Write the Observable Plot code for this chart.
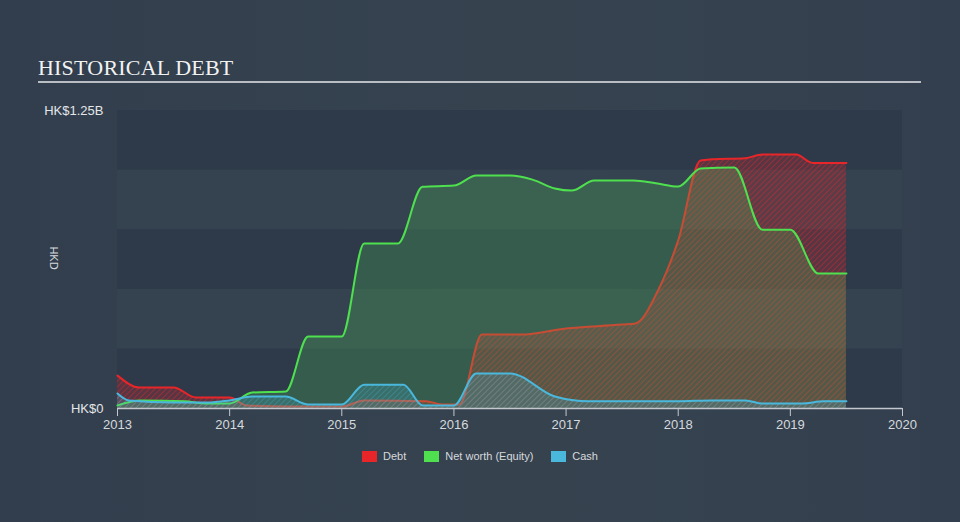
<!DOCTYPE html>
<html><head><meta charset="utf-8">
<script src="https://cdn.jsdelivr.net/npm/d3@7"></script>
<script src="https://cdn.jsdelivr.net/npm/@observablehq/plot@0.6"></script>
<style>
html,body{margin:0;padding:0;width:960px;height:522px;overflow:hidden;background:#333f4e;}
body{position:relative;font-family:"Liberation Sans",Arial,sans-serif;background:linear-gradient(90deg,#323e4d 0%,#36434f 55%,#333f4e 100%);}
#title{position:absolute;left:38px;top:55px;font-family:"Liberation Serif","DejaVu Serif",serif;font-size:22px;color:#f2f2f2;letter-spacing:0.2px;}
#rule{position:absolute;left:38px;top:81px;width:883px;height:2px;background:#b9bec5;}
#chart{position:absolute;left:0;top:0;}
#legend{position:absolute;top:450px;left:0;width:960px;display:flex;justify-content:center;gap:0;font-size:11px;color:#d6d9dd;}
#legend span.item{display:flex;align-items:center;margin:0 9px;}
#legend i{display:inline-block;width:15px;height:11px;margin-right:6px;}
</style></head>
<body>
<div id="title">HISTORICAL DEBT</div>
<div id="rule"></div>
<div id="chart"></div>
<div id="legend"></div>
<script>
// ---- data (values in HK$ billions, x in decimal years) ----
const debtYears  = [2013.0,2013.2,2013.5,2013.7,2014.0,2014.15,2014.5,2015.0,2015.2,2015.75,2015.9,2016.05,2016.25,2016.6,2017.0,2017.5,2017.62,2017.82,2018.0,2018.2,2018.3,2018.6,2018.75,2019.05,2019.2,2019.5];
const debtValues = [0.138,0.088,0.088,0.046,0.046,0.013,0.008,0.008,0.034,0.030,0.017,0.017,0.310,0.310,0.336,0.352,0.357,0.495,0.705,1.040,1.045,1.050,1.065,1.065,1.030,1.030];

const equityYears  = [2013.0,2013.2,2013.6,2013.8,2014.0,2014.2,2014.5,2014.7,2015.0,2015.2,2015.5,2015.72,2016.0,2016.2,2016.5,2016.7,2016.9,2017.05,2017.25,2017.6,2017.8,2018.0,2018.2,2018.5,2018.75,2019.0,2019.25,2019.5];
const equityValues = [0.013,0.034,0.030,0.021,0.021,0.067,0.071,0.302,0.302,0.692,0.692,0.930,0.935,0.977,0.977,0.960,0.923,0.914,0.956,0.956,0.945,0.931,1.007,1.011,0.750,0.750,0.566,0.566];

const cashYears  = [2013.0,2013.1,2013.5,2013.8,2014.0,2014.2,2014.5,2014.7,2015.0,2015.2,2015.55,2015.72,2016.0,2016.2,2016.5,2016.9,2017.2,2017.5,2018.0,2018.3,2018.6,2018.75,2019.1,2019.3,2019.5];
const cashValues = [0.063,0.034,0.025,0.025,0.034,0.050,0.050,0.017,0.017,0.100,0.100,0.013,0.013,0.147,0.147,0.050,0.030,0.030,0.030,0.034,0.034,0.021,0.021,0.030,0.030];

const yTicks = [0, 1.25];
const yTickLabels = ["HK$0", "HK$1.25B"];
const xTicks = [2013, 2014, 2015, 2016, 2017, 2018, 2019, 2020];
const bandEdges = [0, 0.25, 0.5, 0.75, 1.0, 1.25];

const seriesNames = ["Debt", "Net worth (Equity)", "Cash"];
const seriesColors = ["#e8262a", "#4ee04e", "#4ab8dc"];

const debt = debtYears.map((x, i) => ({x, v: debtValues[i]}));
const equity = equityYears.map((x, i) => ({x, v: equityValues[i]}));
const cash = cashYears.map((x, i) => ({x, v: cashValues[i]}));
const bands = bandEdges.slice(0, -1).map((y1, i) => ({y1, y2: bandEdges[i + 1], dark: i % 2 === 0}));

const curve = "monotone-x";
const chart = Plot.plot({
  width: 960, height: 440,
  marginLeft: 117, marginRight: 58, marginTop: 110, marginBottom: 32,
  style: {background: "transparent", color: "#d6d9dd", fontFamily: "Liberation Sans, Arial, sans-serif", fontSize: "13px", overflow: "visible"},
  x: {type: "linear", domain: [2013, 2020], axis: null, label: null},
  y: {type: "linear", domain: [0, 1.25], axis: null, label: null},
  marks: [
    Plot.rectY(bands, {x1: () => 2013, x2: () => 2020, y1: "y1", y2: "y2", fill: d => d.dark ? "#2e3a49" : "#35424f"}),
    Plot.areaY(debt, {x: "x", y: "v", curve, fill: "url(#debtHatch)"}),
    Plot.lineY(debt, {x: "x", y: "v", curve, stroke: seriesColors[0], strokeWidth: 2}),
    Plot.areaY(equity, {x: "x", y: "v", curve, fill: "#52d85a", fillOpacity: 0.22}),
    Plot.lineY(equity, {x: "x", y: "v", curve, stroke: seriesColors[1], strokeWidth: 2}),
    Plot.areaY(cash, {x: "x", y: "v", curve, fill: "url(#cashHatch)"}),
    Plot.lineY(cash, {x: "x", y: "v", curve, stroke: seriesColors[2], strokeWidth: 2}),
    Plot.axisX({ticks: xTicks, tickFormat: d => String(d), tickSize: 8, stroke: "#c4c8ce", fill: "#d6d9dd", fontSize: 13, tickPadding: 3, label: null}),
    Plot.ruleY([0], {stroke: "#c4c8ce", strokeWidth: 1.5}),
    Plot.text(yTicks, {x: () => 2013, y: d => d, text: (d, i) => yTickLabels[i], dx: -14, textAnchor: "end", fill: "#e4e6e9", fontSize: 13})
  ]
});

// patterns
const svg = d3.select(chart);
const defs = svg.insert("defs", ":first-child");
function hatch(id, color, bgOpacity, lineOpacity) {
  const p = defs.append("pattern").attr("id", id).attr("patternUnits", "userSpaceOnUse")
    .attr("width", 4).attr("height", 4).attr("patternTransform", "rotate(45)");
  p.append("rect").attr("width", 4).attr("height", 4).attr("fill", color).attr("fill-opacity", bgOpacity);
  p.append("line").attr("x1", 0).attr("y1", 0).attr("x2", 0).attr("y2", 4)
    .attr("stroke", color).attr("stroke-width", 1.6).attr("stroke-opacity", lineOpacity);
}
hatch("debtHatch", "#e8262a", 0.22, 0.55);
hatch("cashHatch", "#4ab8dc", 0.2, 0.35);

// rotated axis unit label
svg.append("text").attr("transform", "translate(50,258) rotate(90)").attr("text-anchor", "middle")
  .attr("fill", "#d6d9dd").attr("font-size", 11).text("HKD");

document.getElementById("chart").appendChild(chart);

const legend = document.getElementById("legend");
seriesNames.forEach((n, i) => {
  const s = document.createElement("span");
  s.className = "item";
  s.innerHTML = `<i style="background:${seriesColors[i]}"></i>${n}`;
  legend.appendChild(s);
});
</script>
</body></html>
